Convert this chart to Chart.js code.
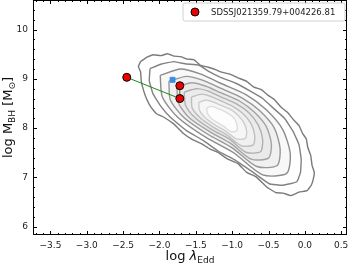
<!DOCTYPE html>
<html>
<head>
<meta charset="utf-8">
<script src="https://cdn.jsdelivr.net/npm/chart.js@4/dist/chart.umd.min.js"></script>
<style>
  html, body { margin: 0; padding: 0; background: #fff; }
</style>
</head>
<body>
<canvas id="chart" width="349" height="264"></canvas>
<script>
// tick labels
const xTicks = [-3.5, -3.0, -2.5, -2.0, -1.5, -1.0, -0.5, 0.0, 0.5];
const yTicks = [6, 7, 8, 9, 10];

// the source: three epochs, joined by the green track
const sourceName = 'SDSSJ021359.79+004226.81';
const srcLogEdd = [-2.45, -1.72, -1.72];
const srcLogMbh = [9.03, 8.60, 8.86];

// blue reference point
const refLogEdd = [-1.82];
const refLogMbh = [8.98];

// density contours of the parent sample, outermost first [log Edd, log M_BH]
const contour1 = [[-2.26, 9.35], [-2.17, 9.44], [-2.08, 9.49], [-1.98, 9.47], [-1.89, 9.51], [-1.80, 9.46], [-1.71, 9.45], [-1.62, 9.40], [-1.53, 9.39], [-1.44, 9.28], [-1.34, 9.24], [-1.25, 9.20], [-1.16, 9.14], [-1.04, 9.10], [-0.92, 9.02], [-0.80, 8.95], [-0.70, 8.83], [-0.60, 8.78], [-0.51, 8.67], [-0.42, 8.58], [-0.33, 8.43], [-0.24, 8.32], [-0.15, 8.16], [-0.08, 8.05], [-0.03, 7.89], [0.02, 7.78], [0.04, 7.61], [0.08, 7.45], [0.10, 7.24], [0.13, 7.10], [0.11, 6.93], [0.08, 6.82], [0.03, 6.73], [-0.08, 6.70], [-0.19, 6.63], [-0.30, 6.68], [-0.40, 6.69], [-0.52, 6.80], [-0.67, 7.01], [-0.80, 7.10], [-0.92, 7.28], [-1.06, 7.37], [-1.20, 7.51], [-1.31, 7.58], [-1.43, 7.69], [-1.55, 7.77], [-1.67, 7.89], [-1.80, 8.08], [-1.94, 8.22], [-2.04, 8.29], [-2.12, 8.43], [-2.18, 8.60], [-2.22, 8.77], [-2.25, 8.95], [-2.26, 9.14], [-2.29, 9.25], [-2.26, 9.35]];
const contour2 = [[-2.13, 9.21], [-1.97, 9.30], [-1.80, 9.35], [-1.63, 9.30], [-1.46, 9.28], [-1.31, 9.14], [-1.16, 9.03], [-0.95, 8.91], [-0.75, 8.75], [-0.58, 8.60], [-0.43, 8.40], [-0.28, 8.20], [-0.16, 7.93], [-0.08, 7.66], [-0.05, 7.36], [-0.06, 7.10], [-0.11, 6.91], [-0.30, 6.84], [-0.49, 6.87], [-0.73, 7.12], [-0.97, 7.36], [-1.19, 7.53], [-1.40, 7.75], [-1.63, 7.95], [-1.85, 8.22], [-1.98, 8.44], [-2.09, 8.70], [-2.14, 8.96], [-2.13, 9.21]];
const contour3 = [[-1.99, 9.07], [-1.71, 9.20], [-1.44, 9.10], [-1.16, 8.91], [-0.81, 8.68], [-0.53, 8.37], [-0.30, 7.96], [-0.20, 7.47], [-0.25, 7.08], [-0.58, 7.05], [-0.98, 7.50], [-1.36, 7.81], [-1.75, 8.22], [-1.96, 8.63], [-1.99, 9.07]];
const contour4 = [[-1.87, 8.95], [-1.63, 9.05], [-1.40, 8.97], [-1.16, 8.81], [-0.86, 8.61], [-0.62, 8.35], [-0.42, 8.00], [-0.34, 7.58], [-0.38, 7.24], [-0.66, 7.22], [-1.00, 7.60], [-1.33, 7.87], [-1.66, 8.21], [-1.85, 8.57], [-1.87, 8.95]];
const contour5 = [[-1.76, 8.83], [-1.56, 8.92], [-1.36, 8.85], [-1.16, 8.72], [-0.90, 8.55], [-0.70, 8.33], [-0.53, 8.03], [-0.46, 7.67], [-0.50, 7.39], [-0.74, 7.37], [-1.02, 7.69], [-1.30, 7.92], [-1.59, 8.21], [-1.74, 8.51], [-1.76, 8.83]];
const contour6 = [[-1.66, 8.73], [-1.49, 8.80], [-1.33, 8.75], [-1.15, 8.63], [-0.94, 8.49], [-0.77, 8.31], [-0.64, 8.06], [-0.58, 7.76], [-0.61, 7.52], [-0.81, 7.51], [-1.04, 7.78], [-1.28, 7.97], [-1.51, 8.21], [-1.64, 8.46], [-1.66, 8.73]];
const contour7 = [[-1.56, 8.63], [-1.42, 8.69], [-1.29, 8.64], [-1.15, 8.55], [-0.98, 8.43], [-0.85, 8.29], [-0.74, 8.09], [-0.69, 7.85], [-0.71, 7.66], [-0.87, 7.64], [-1.07, 7.86], [-1.25, 8.01], [-1.44, 8.21], [-1.55, 8.41], [-1.56, 8.63]];
const contour8 = [[-1.46, 8.52], [-1.36, 8.57], [-1.26, 8.53], [-1.15, 8.46], [-1.02, 8.38], [-0.92, 8.26], [-0.84, 8.11], [-0.80, 7.93], [-0.82, 7.79], [-0.94, 7.78], [-1.09, 7.94], [-1.23, 8.06], [-1.37, 8.21], [-1.45, 8.36], [-1.46, 8.52]];
const contour9 = [[-1.35, 8.41], [-1.28, 8.44], [-1.22, 8.41], [-1.15, 8.37], [-1.07, 8.31], [-1.00, 8.24], [-0.95, 8.14], [-0.93, 8.03], [-0.94, 7.94], [-1.02, 7.93], [-1.11, 8.03], [-1.20, 8.11], [-1.29, 8.20], [-1.34, 8.30], [-1.35, 8.41]];

const contours = [contour1, contour2, contour3, contour4, contour5, contour6, contour7, contour8, contour9];
const lineColors = ['#7a7a7a', '#828282', '#8c8c8c', '#979797', '#a3a3a3', '#b0b0b0', '#bebebe', '#cdcdcd', '#dddddd'];
const fillColors = [null, null, '#f8f8f8', '#f0f0f0', '#eaeaea', '#ebebeb', '#f0f0f0', '#f6f6f6', '#fdfdfd'];

const xMin = -3.74, xMax = 0.58, yMin = 5.83, yMax = 10.6;

function fmtTick(v) {
  return v.toFixed(1).replace('-', '\u2212');
}

const datasets = [];

datasets.push({
  label: sourceName,
  data: srcLogEdd.map((v, i) => ({ x: v, y: srcLogMbh[i] })),
  backgroundColor: '#ee0000',
  borderColor: '#000',
  borderWidth: 1,
  pointRadius: 4,
  showLine: false,
  order: 0
});
datasets.push({
  label: 'ref',
  data: refLogEdd.map((v, i) => ({ x: v, y: refLogMbh[i] })),
  backgroundColor: '#3a8ee6',
  borderColor: '#3a8ee6',
  pointStyle: 'rect',
  pointRadius: 3.5,
  showLine: false,
  order: 1
});
datasets.push({
  label: 'track',
  data: srcLogEdd.map((v, i) => ({ x: v, y: srcLogMbh[i] })),
  borderColor: '#1a8a1a',
  borderWidth: 1,
  pointRadius: 0,
  showLine: true,
  order: 2
});

contours.forEach((c, i) => {
  datasets.push({
    label: 'contour' + (i + 1),
    data: c.map(p => ({ x: p[0], y: p[1] })),
    showLine: true,
    borderColor: lineColors[i],
    borderWidth: 1.4,
    backgroundColor: fillColors[i] || 'transparent',
    fill: fillColors[i] ? 'shape' : false,
    tension: i < 2 ? 0.1 : 0.25,
    pointRadius: 0,
    order: 30 - i
  });
});

// frame, inward ticks, legend box and axis titles
const decorPlugin = {
  id: 'decor',
  afterDraw(chart) {
    const { ctx, chartArea: a, scales } = chart;
    const xs = scales.x, ys = scales.y;
    ctx.save();
    ctx.strokeStyle = '#000';
    ctx.lineWidth = 1;
    ctx.strokeRect(a.left + 0.5, a.top + 0.5, a.right - a.left - 1, a.bottom - a.top - 1);

    ctx.beginPath();
    for (let k = -37; k <= 5; k++) {
      const v = k / 10;
      const px = Math.round(xs.getPixelForValue(v)) + 0.5;
      const major = k % 5 === 0;
      const len = major ? 4 : 2;
      ctx.moveTo(px, a.bottom); ctx.lineTo(px, a.bottom - len);
      ctx.moveTo(px, a.top); ctx.lineTo(px, a.top + len);
    }
    for (let k = 30; k <= 53; k++) {
      const v = k / 5;
      const py = Math.round(ys.getPixelForValue(v)) + 0.5;
      const major = k % 5 === 0;
      const len = major ? 4 : 2;
      ctx.moveTo(a.left, py); ctx.lineTo(a.left + len, py);
      ctx.moveTo(a.right, py); ctx.lineTo(a.right - len, py);
    }
    ctx.stroke();

    // legend
    const bx = a.right - 164, by = a.top + 3, bw = 162, bh = 18;
    ctx.fillStyle = 'rgba(255,255,255,0.85)';
    ctx.strokeStyle = '#d0d0d0';
    ctx.beginPath();
    ctx.roundRect(bx, by, bw, bh, 2);
    ctx.fill();
    ctx.stroke();
    ctx.beginPath();
    ctx.arc(bx + 12, by + bh / 2, 4, 0, Math.PI * 2);
    ctx.fillStyle = '#ee0000';
    ctx.fill();
    ctx.strokeStyle = '#000';
    ctx.stroke();
    ctx.fillStyle = '#222';
    ctx.font = '8.5px "DejaVu Sans"';
    ctx.textBaseline = 'middle';
    ctx.textAlign = 'left';
    ctx.fillText(sourceName, bx + 28, by + bh / 2 + 0.5);

    // x title: log λ_Edd
    ctx.textBaseline = 'alphabetic';
    const big = '13px "DejaVu Sans"', bigIt = 'italic 13px "DejaVu Sans"', small = '9px "DejaVu Sans"';
    ctx.font = big; const w1 = ctx.measureText('log ').width;
    ctx.font = bigIt; const w2 = ctx.measureText('\u03bb').width;
    ctx.font = small; const w3 = ctx.measureText('Edd').width;
    let tx = (a.left + a.right) / 2 - (w1 + w2 + w3) / 2;
    const ty = 260;
    ctx.fillStyle = '#111';
    ctx.font = big; ctx.fillText('log ', tx, ty); tx += w1;
    ctx.font = bigIt; ctx.fillText('\u03bb', tx, ty); tx += w2;
    ctx.font = small; ctx.fillText('Edd', tx, ty + 3);

    // y title: log M_BH [M_sun]
    const parts = [['log M', big, 0], ['BH', small, 3], [' [M', big, 0], ['\u2299', small, 3], [']', big, 0]];
    let total = 0;
    parts.forEach(p => { ctx.font = p[1]; p.push(ctx.measureText(p[0]).width); total += p[3]; });
    ctx.translate(12, (a.top + a.bottom) / 2);
    ctx.rotate(-Math.PI / 2);
    let sx = -total / 2;
    parts.forEach(p => { ctx.font = p[1]; ctx.fillText(p[0], sx, p[2]); sx += p[3]; });
    ctx.restore();
  }
};

new Chart(document.getElementById('chart'), {
  type: 'scatter',
  data: { datasets: datasets },
  options: {
    responsive: false,
    animation: false,
    layout: { autoPadding: false, padding: { top: 0, right: 2, left: 0, bottom: 0 } },
    plugins: { legend: { display: false }, tooltip: { enabled: false } },
    scales: {
      x: {
        type: 'linear',
        min: xMin, max: xMax,
        grid: { display: false, drawTicks: false },
        border: { display: false },
        afterBuildTicks: s => { s.ticks = xTicks.map(v => ({ value: v })); },
        afterFit: s => { s.height = 29; s.paddingLeft = 0; s.paddingRight = 0; },
        ticks: {
          padding: 5,
          color: '#222',
          font: { family: 'DejaVu Sans', size: 9 },
          callback: v => fmtTick(v)
        }
      },
      y: {
        type: 'linear',
        min: yMin, max: yMax,
        grid: { display: false, drawTicks: false },
        border: { display: false },
        afterBuildTicks: s => { s.ticks = yTicks.map(v => ({ value: v })); },
        afterFit: s => { s.width = 33; s.paddingTop = 0; s.paddingBottom = 0; },
        ticks: {
          padding: 5,
          color: '#222',
          font: { family: 'DejaVu Sans', size: 9 },
          callback: v => String(v)
        }
      }
    }
  },
  plugins: [decorPlugin]
});
</script>
</body>
</html>
